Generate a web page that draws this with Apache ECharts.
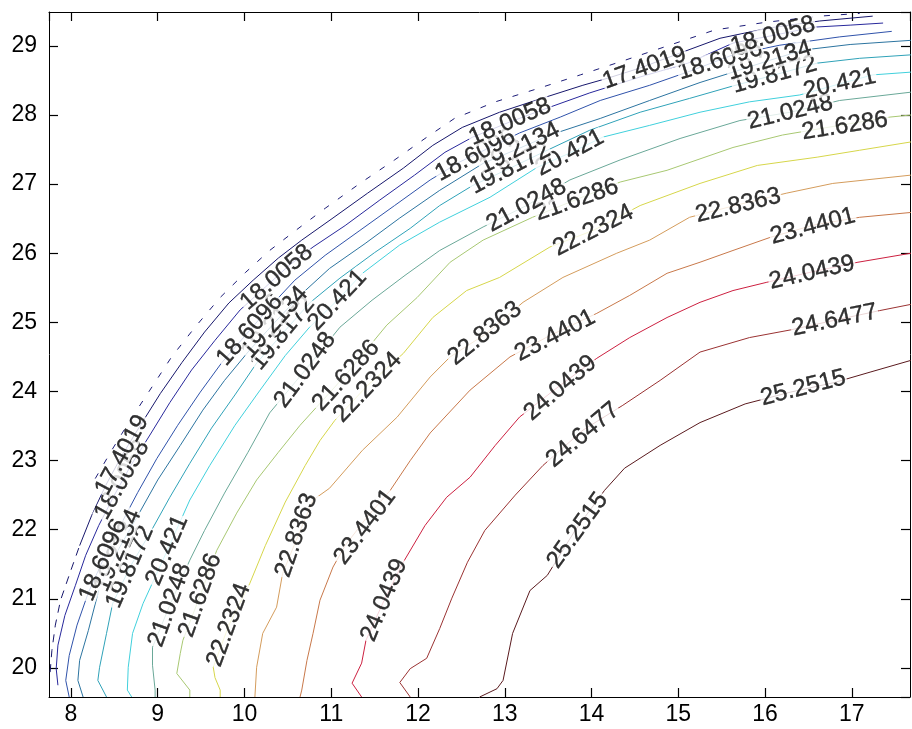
<!DOCTYPE html>
<html><head><meta charset="utf-8">
<script src="https://cdn.jsdelivr.net/npm/echarts@6/dist/echarts.min.js"></script>
<style>html,body{margin:0;padding:0;background:#fff}#c{width:912px;height:729px}</style>
</head><body><div id="c"></div>
<script>
// ---- contour levels (as printed) ----
const levelNames = ['16.7981','17.4019','18.0058','18.6096','19.2134','19.8172','20.421','21.0248','21.6286','22.2324','22.8363','23.4401','24.0439','24.6477','25.2515'];

// ---- contour polylines: [x, y] ----
const c16_7981 = [[8.28,22.74],[8.47,23.15],[8.68,23.58],[8.91,24.02],[9.16,24.50],[9.43,24.93],[9.72,25.36],[10.01,25.72],[10.29,26.04],[10.59,26.33],[10.93,26.65],[11.33,27.01],[11.73,27.35],[12.08,27.66],[12.42,27.95],[12.89,28.19],[13.35,28.37],[13.87,28.58],[14.38,28.79],[14.90,29.01],[15.42,29.23],[16.00,29.34],[16.63,29.43],[17.09,29.47]];
const c17_4019_broken = [[7.76,19.94],[7.78,20.25],[7.82,20.62],[7.88,20.98],[7.99,21.38],[8.10,21.77]];
const c17_4019 = [[8.10,21.77],[8.24,22.21],[8.40,22.64],[8.59,23.08],[8.80,23.51],[9.03,23.97],[9.28,24.42],[9.54,24.86],[9.82,25.28],[10.10,25.61],[10.39,25.93],[10.66,26.19],[11.02,26.51],[11.42,26.87],[11.83,27.23],[12.17,27.56],[12.51,27.82],[12.94,28.04],[13.40,28.23],[13.90,28.43],[14.18,28.53],[14.56,28.68],[15.05,28.91],[15.48,29.11],[16.05,29.26],[16.63,29.36],[17.24,29.43]];
const c18_0058 = [[7.85,19.75],[7.83,19.99],[7.85,20.33],[7.93,20.76],[8.05,21.19],[8.17,21.63],[8.32,22.06],[8.50,22.50],[8.69,22.93],[8.91,23.37],[9.14,23.84],[9.39,24.31],[9.66,24.74],[9.95,25.18],[10.24,25.51],[10.52,25.83],[10.79,26.09],[11.16,26.40],[11.56,26.77],[11.96,27.13],[12.31,27.46],[12.63,27.68],[13.06,27.90],[13.49,28.10],[13.98,28.32],[14.56,28.55],[15.13,28.76],[15.63,29.04],[16.09,29.15],[16.55,29.27],[16.98,29.30],[17.36,29.33]];
const c18_6096 = [[7.98,19.58],[7.94,19.82],[7.98,20.18],[8.07,20.62],[8.20,21.09],[8.37,21.56],[8.56,22.04],[8.77,22.54],[8.99,23.03],[9.23,23.51],[9.49,23.99],[9.74,24.42],[10.03,24.84],[10.29,25.22],[10.58,25.61],[10.93,25.97],[11.33,26.33],[11.73,26.69],[12.14,27.06],[12.48,27.32],[12.83,27.53],[13.17,27.74],[13.64,27.97],[14.10,28.21],[14.67,28.43],[15.17,28.65],[15.63,28.87],[16.17,29.01],[16.86,29.13],[17.46,29.21]];
const c19_2134 = [[8.14,19.58],[8.08,19.82],[8.10,20.11],[8.20,20.54],[8.33,21.17],[8.54,21.70],[8.76,22.18],[9.00,22.72],[9.26,23.22],[9.52,23.73],[9.77,24.16],[10.06,24.60],[10.35,25.00],[10.64,25.39],[10.98,25.78],[11.39,26.14],[11.79,26.51],[12.25,26.91],[12.75,27.30],[13.17,27.52],[13.52,27.71],[14.10,27.95],[14.67,28.21],[15.25,28.47],[15.63,28.62],[16.05,28.79],[16.44,28.94],[16.98,29.02],[17.68,29.08]];
const c19_8172 = [[8.41,19.58],[8.31,19.82],[8.33,20.01],[8.41,20.50],[8.48,20.93],[8.68,21.46],[8.91,21.95],[9.14,22.47],[9.37,22.96],[9.62,23.47],[9.89,23.95],[10.14,24.41],[10.44,24.84],[10.75,25.28],[11.10,25.64],[11.50,26.01],[11.91,26.36],[12.25,26.69],[12.63,26.98],[13.06,27.23],[13.49,27.49],[13.98,27.78],[14.56,28.04],[15.13,28.24],[15.63,28.42],[16.11,28.58],[16.60,28.75],[17.09,28.82],[17.68,28.87]];
const c20_421 = [[8.70,19.58],[8.65,19.68],[8.66,20.01],[8.71,20.50],[8.83,20.93],[9.11,21.70],[9.37,22.43],[9.60,22.93],[9.89,23.51],[10.18,24.02],[10.47,24.52],[10.75,24.93],[11.07,25.32],[11.36,25.71],[11.79,26.12],[12.25,26.45],[12.83,26.81],[13.37,27.24],[13.75,27.45],[14.13,27.68],[14.67,27.85],[15.25,28.04],[15.82,28.19],[16.40,28.29],[16.86,28.45],[17.24,28.58],[17.68,28.62]];
const c21_0248 = [[8.97,19.58],[8.97,19.68],[8.94,20.04],[8.94,20.30],[9.14,20.91],[9.37,21.56],[9.54,21.99],[9.77,22.53],[10.04,23.12],[10.29,23.69],[10.70,24.31],[11.10,24.93],[11.47,25.32],[11.85,25.68],[12.25,26.04],[12.75,26.38],[13.25,26.69],[13.75,27.06],[14.33,27.35],[15.02,27.66],[15.71,27.92],[16.29,28.04],[16.86,28.21],[17.68,28.33]];
const c21_6286 = [[9.37,19.58],[9.37,19.68],[9.22,19.92],[9.26,20.21],[9.29,20.40],[9.49,21.05],[9.68,21.70],[9.91,22.24],[10.14,22.72],[10.39,23.12],[10.64,23.51],[11.16,24.23],[11.64,24.96],[11.99,25.36],[12.37,25.87],[12.75,26.19],[13.32,26.52],[13.81,26.77],[14.33,27.03],[14.87,27.20],[15.63,27.53],[16.20,27.71],[16.86,27.85],[17.44,27.97],[17.68,28.00]];
const c22_2324 = [[9.72,19.58],[9.72,19.68],[9.66,19.86],[9.64,20.01],[9.82,20.62],[10.06,21.22],[10.24,21.77],[10.47,22.40],[10.70,22.93],[10.87,23.29],[11.04,23.58],[11.42,24.09],[11.83,24.55],[12.17,25.07],[12.56,25.46],[12.94,25.65],[13.52,26.09],[14.02,26.33],[14.56,26.69],[15.25,27.01],[15.91,27.27],[16.60,27.39],[17.09,27.49],[17.68,27.61]];
const c22_8363 = [[10.12,19.58],[10.14,20.01],[10.21,20.50],[10.37,20.88],[10.44,21.37],[10.62,21.92],[10.79,22.43],[10.98,22.60],[11.36,23.15],[11.76,23.63],[12.14,24.21],[12.37,24.50],[12.79,24.84],[13.21,25.29],[13.67,25.65],[14.29,26.00],[14.67,26.19],[15.13,26.52],[15.65,26.69],[16.25,26.87],[16.78,27.01],[17.68,27.13]];
const c23_4401 = [[10.64,19.58],[10.66,19.68],[10.72,20.11],[10.79,20.50],[10.87,20.98],[11.02,21.46],[11.16,21.77],[11.41,22.18],[11.68,22.57],[11.91,23.00],[12.14,23.40],[12.60,24.02],[13.06,24.50],[13.52,24.81],[14.06,25.13],[14.44,25.39],[14.87,25.71],[15.25,25.87],[15.63,26.04],[16.06,26.23],[16.57,26.41],[17.09,26.52],[17.68,26.59]];
const c24_0439 = [[11.35,19.58],[11.24,19.78],[11.35,20.07],[11.40,20.40],[11.61,20.98],[11.83,21.53],[12.08,22.06],[12.33,22.47],[12.60,22.76],[12.89,23.22],[13.17,23.63],[13.64,24.09],[14.06,24.48],[14.44,24.78],[14.87,25.07],[15.25,25.29],[15.63,25.46],[16.02,25.58],[16.54,25.73],[17.07,25.87],[17.68,26.00]];
const c24_6477 = [[11.91,19.58],[11.79,19.79],[11.91,19.99],[12.10,20.14],[12.25,20.57],[12.39,21.01],[12.57,21.53],[12.77,21.99],[13.12,22.50],[13.44,22.93],[13.90,23.44],[14.36,23.80],[14.79,24.16],[15.25,24.57],[15.82,24.78],[16.29,24.89],[16.80,25.03],[17.32,25.17],[17.68,25.26]];
const c25_2515 = [[12.71,19.58],[12.91,19.70],[12.98,19.82],[13.09,20.50],[13.29,21.12],[13.49,21.34],[13.81,21.99],[14.15,22.57],[14.38,22.89],[14.79,23.22],[15.25,23.55],[15.77,23.82],[16.29,23.99],[16.80,24.13],[17.21,24.28],[17.68,24.45]];

// ---- inline contour labels: [level, x, y] ----
const labelSpots = [
  ['25.2515',13.84,21.99],['25.2515',16.44,24.05],
  ['24.6477',13.90,23.37],['24.6477',16.80,25.03],
  ['24.0439',11.61,20.98],['24.0439',13.64,24.05],['24.0439',16.54,25.72],
  ['23.4401',11.39,22.04],['23.4401',13.58,24.81],['23.4401',16.55,26.39],
  ['22.8363',10.60,21.92],['22.8363',12.77,24.84],['22.8363',15.69,26.69],
  ['22.2324',9.82,20.62],['22.2324',11.42,24.06],['22.2324',14.02,26.33],
  ['21.6286',9.49,21.05],['21.6286',11.17,24.23],['21.6286',13.83,26.77],['21.6286',16.92,27.84],
  ['21.0248',9.14,20.91],['21.0248',10.70,24.31],['21.0248',13.25,26.69],['21.0248',16.29,28.04],
  ['20.421',9.11,21.70],['20.421',11.07,25.32],['20.421',13.75,27.45],['20.421',16.86,28.45],
  ['19.8172',8.68,21.46],['19.8172',10.44,24.84],['19.8172',13.06,27.23],['19.8172',16.11,28.58],
  ['19.2134',8.54,21.70],['19.2134',10.35,25.00],['19.2134',13.17,27.52],['19.2134',16.05,28.79],
  ['18.6096',8.37,21.56],['18.6096',10.06,24.89],['18.6096',12.66,27.42],['18.6096',15.48,28.79],
  ['18.0058',8.59,22.72],['18.0058',10.37,25.65],['18.0058',13.06,27.90],['18.0058',16.09,29.15],
  ['17.4019',8.59,23.08],['17.4019',14.61,28.68]
];

// ---- axis ranges ----
const xRange = [7.747, 17.67];
const yRange = [19.58, 29.49];

const lineColors = {
  '16.7981':'#1c1c78','17.4019':'#17176c','18.0058':'#28289c','18.6096':'#2f52aa','19.2134':'#2c74a0',
  '19.8172':'#2fa2b8','20.421':'#40d0dc','21.0248':'#6aa898','21.6286':'#a8c872','22.2324':'#d6d64a',
  '22.8363':'#d49c5c','23.4401':'#c8784a','24.0439':'#cc2040','24.6477':'#9a3232','25.2515':'#5a1a1e'
};
const contours = {
  '17.4019':c17_4019,'18.0058':c18_0058,'18.6096':c18_6096,'19.2134':c19_2134,'19.8172':c19_8172,
  '20.421':c20_421,'21.0248':c21_0248,'21.6286':c21_6286,'22.2324':c22_2324,'22.8363':c22_8363,
  '23.4401':c23_4401,'24.0439':c24_0439,'24.6477':c24_6477,'25.2515':c25_2515
};

const FONT = '"Liberation Sans", Arial, sans-serif';
const FS_LABEL = 24;
const FS_TICK = 23;

const chart = echarts.init(document.getElementById('c'), null, {renderer:'canvas'});

function axisCommon(show){
  return {
    type:'value', scale:true, splitNumber:10,
    axisLine:{show:true, onZero:false, lineStyle:{color:'#000', width:1}},
    axisTick:{show:true, inside:true, length:9, lineStyle:{color:'#000', width:1.2}},
    splitLine:{show:false},
    axisLabel:{show:show, color:'#000', fontSize:FS_TICK, fontFamily:FONT, showMinLabel:false, showMaxLabel:false}
  };
}

const series = [];
series.push({type:'line', data:c16_7981, showSymbol:false, symbol:'none', lineStyle:{color:lineColors['16.7981'], width:1, type:[6,11]}, silent:true, z:2});
series.push({type:'line', data:c17_4019_broken, showSymbol:false, symbol:'none', lineStyle:{color:lineColors['17.4019'], width:1, type:[8,7]}, silent:true, z:2});
Object.keys(contours).forEach(k=>{
  series.push({type:'line', name:k, data:contours[k], showSymbol:false, symbol:'none', lineStyle:{color:lineColors[k], width:1}, silent:true, z:2});
});

const xa0 = Object.assign(axisCommon(true), {position:'bottom', min:xRange[0], max:xRange[1]});
xa0.axisLabel.margin = 6;
const xa1 = Object.assign(axisCommon(false), {position:'top', min:xRange[0], max:xRange[1]});
const ya0 = Object.assign(axisCommon(true), {position:'left', min:yRange[0], max:yRange[1]});
ya0.axisLabel.margin = 12;
const ya1 = Object.assign(axisCommon(false), {position:'right', min:yRange[0], max:yRange[1]});

chart.setOption({
  animation:false,
  backgroundColor:'#fff',
  grid:{left:49, right:2, top:12, bottom:32, containLabel:false},
  xAxis:[xa0, xa1],
  yAxis:[ya0, ya1],
  series: series
});

function angleFor(line, x, y){
  const pts = line.map(p=>chart.convertToPixel({xAxisIndex:0, yAxisIndex:0}, p));
  const q = chart.convertToPixel({xAxisIndex:0, yAxisIndex:0}, [x,y]);
  let best=0, bd=Infinity;
  for(let i=0;i<pts.length-1;i++){
    const ax=pts[i][0], ay=pts[i][1], bx=pts[i+1][0], by=pts[i+1][1];
    const dx=bx-ax, dy=by-ay, L=dx*dx+dy*dy;
    let t = L ? ((q[0]-ax)*dx+(q[1]-ay)*dy)/L : 0; t=Math.max(0,Math.min(1,t));
    const d=Math.hypot(ax+t*dx-q[0], ay+t*dy-q[1]);
    if(d<bd){bd=d;best=i;}
  }
  const i0=Math.max(0,best-1), i1=Math.min(pts.length-1,best+2);
  let a=Math.atan2(-(pts[i1][1]-pts[i0][1]), pts[i1][0]-pts[i0][0])*180/Math.PI;
  if(a>90) a-=180; if(a<-90) a+=180;
  return a;
}

const labelData = labelSpots.map(s=>({
  value:[s[1], s[2]],
  label:{show:true, formatter:s[0], rotate:angleFor(contours[s[0]], s[1], s[2])}
}));

series.push({
  type:'scatter', data:labelData, symbolSize:0, silent:true, z:5, clip:false,
  label:{show:true, position:'inside', color:'#000', fontSize:FS_LABEL, fontFamily:FONT,
         textBorderColor:'#000', textBorderWidth:0.4,
         backgroundColor:'#fff', padding:[0,1], lineHeight:Math.round(FS_LABEL*0.78)}
});
chart.setOption({series: series});
</script>
</body></html>
